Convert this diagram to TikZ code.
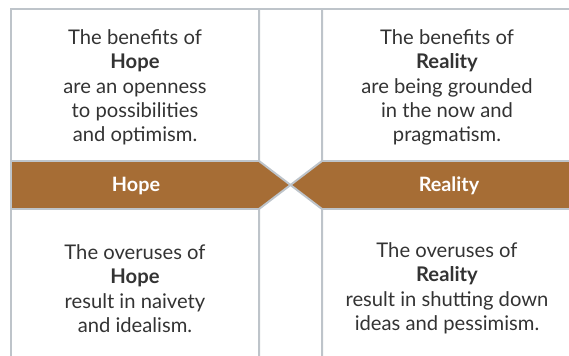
\documentclass[tikz,border=0pt]{standalone}
\usepackage{fontspec}
\setmainfont{Lato}
\usepackage{xcolor}
\definecolor{BandBrown}{HTML}{A66D35}
\definecolor{GridGray}{HTML}{BEC4CA}
\definecolor{TextGray}{HTML}{333333}
\usetikzlibrary{positioning}
\tikzset{
  % Text styles
  celltext/.style={align=center, text=TextGray, inner sep=0pt, font=\fontsize{10.1}{12.2}\selectfont},
  bandlabel/.style={text=white, inner sep=0pt, font=\fontsize{9.9}{12}\selectfont\bfseries},
  % Line styles
  gridline/.style={draw=GridGray, line width=1pt},
  bandfill/.style={fill=BandBrown}
}

\begin{document}
\begin{tikzpicture}[x=0.5pt, y=-0.5pt]
  \useasboundingbox (0,0) rectangle (569,356);

  % Bands
  \coordinate (tip) at (290.5,185);
  \fill[bandfill] (11,161) -- (259,161) -- (tip) -- (259,209) -- (11,209) -- cycle;
  \fill[bandfill] (569,161) -- (322,161) -- (tip) -- (322,209) -- (569,209) -- cycle;

  % Grid
  \draw[gridline] (11,356) -- (11,9) -- (569,9);
  \draw[gridline] (259,9) -- (259,161) -- (322,209) -- (322,356);
  \draw[gridline] (322,9) -- (322,161) -- (259,209) -- (259,356);
  \draw[gridline] (11,161) -- (259,161) (322,161) -- (569,161);
  \draw[gridline] (11,209) -- (259,209) (322,209) -- (569,209);

  % Band labels
  \node[bandlabel, anchor=base] (hopeband) at (136,191.5) {Hope};
  \node[bandlabel, anchor=base] (realityband) at (449,191.5) {Reality};

  % Cell texts
  \node[celltext] (hopeplus) at (135,87.5) {The benefits of\\\textbf{Hope}\\are an openness\\to possibilities\\and optimism.};
  \node[celltext] (realityplus) at (447,87.5) {The benefits of\\\textbf{Reality}\\are being grounded\\in the now and\\pragmatism.};
  \node[celltext] (hopeminus) at (135,288.5) {The overuses of\\\textbf{Hope}\\result in naivety\\and idealism.};
  \node[celltext] (realityminus) at (447,288.5) {The overuses of\\\textbf{Reality}\\result in shutting down\\ideas and pessimism.};
\end{tikzpicture}
\end{document}
